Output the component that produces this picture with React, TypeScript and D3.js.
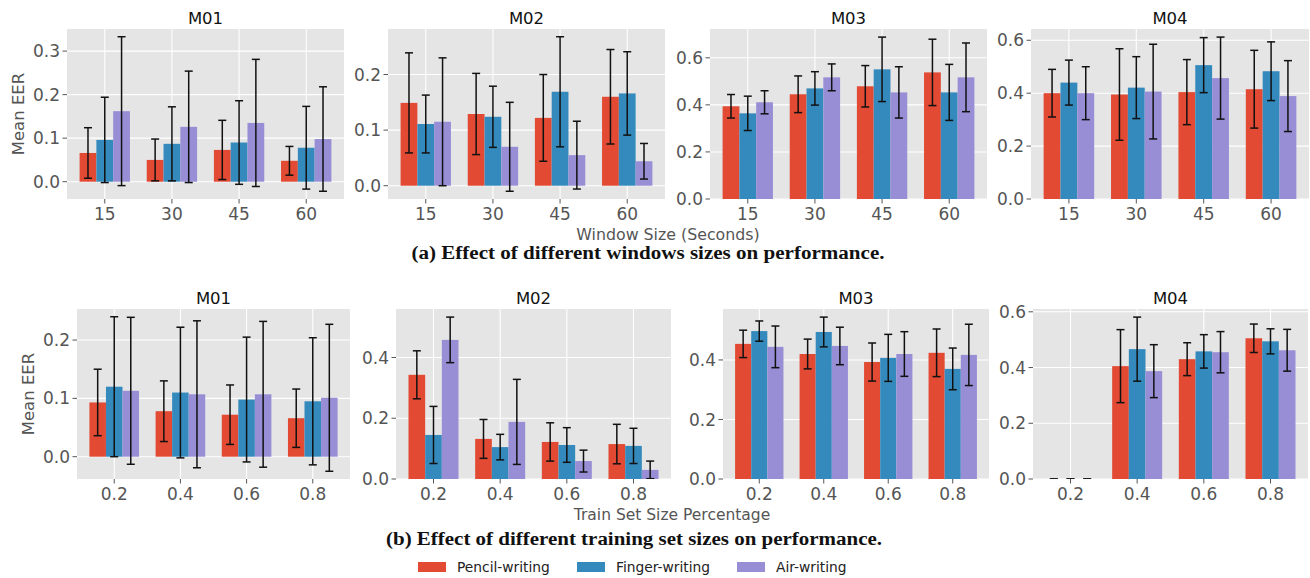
import React from 'react'
import * as d3 from 'd3'

// series and categories
const seriesNames = ['Pencil-writing', 'Finger-writing', 'Air-writing']
const seriesColors = ['#E24A33', '#348ABD', '#988ED5']
const windowSizes = ['15', '30', '45', '60']
const trainSizes = ['0.2', '0.4', '0.6', '0.8']

// (a) window size: mean EER per series [pencil, finger, air], and std error bars
const winM01Mean = [[0.066, 0.050, 0.073, 0.048], [0.096, 0.087, 0.090, 0.078], [0.162, 0.126, 0.135, 0.098]]
const winM01Err = [[0.058, 0.048, 0.068, 0.033], [0.098, 0.085, 0.096, 0.095], [0.171, 0.128, 0.146, 0.120]]
const winM02Mean = [[0.149, 0.129, 0.122, 0.160], [0.111, 0.124, 0.169, 0.166], [0.115, 0.070, 0.055, 0.044]]
const winM02Err = [[0.090, 0.073, 0.078, 0.085], [0.052, 0.055, 0.099, 0.075], [0.115, 0.080, 0.061, 0.032]]
const winM03Mean = [[0.394, 0.445, 0.479, 0.538], [0.364, 0.470, 0.551, 0.453], [0.411, 0.517, 0.453, 0.517]]
const winM03Err = [[0.050, 0.078, 0.088, 0.141], [0.073, 0.071, 0.137, 0.119], [0.049, 0.057, 0.109, 0.146]]
const winM04Mean = [[0.400, 0.395, 0.404, 0.415], [0.440, 0.421, 0.506, 0.483], [0.400, 0.406, 0.457, 0.389]]
const winM04Err = [[0.090, 0.173, 0.123, 0.147], [0.085, 0.117, 0.104, 0.111], [0.100, 0.179, 0.155, 0.134]]

// (b) train set size
const trM01Mean = [[0.093, 0.078, 0.072, 0.066], [0.120, 0.110, 0.098, 0.095], [0.113, 0.107, 0.107, 0.101]]
const trM01Err = [[0.057, 0.052, 0.051, 0.050], [0.120, 0.112, 0.107, 0.109], [0.126, 0.126, 0.125, 0.126]]
const trM02Mean = [[0.343, 0.132, 0.122, 0.115], [0.145, 0.105, 0.112, 0.109], [0.458, 0.188, 0.059, 0.030]]
const trM02Err = [[0.079, 0.064, 0.063, 0.065], [0.094, 0.042, 0.057, 0.058], [0.075, 0.140, 0.036, 0.029]]
const trM03Mean = [[0.454, 0.420, 0.393, 0.424], [0.497, 0.494, 0.407, 0.370], [0.444, 0.447, 0.420, 0.417]]
const trM03Err = [[0.046, 0.050, 0.064, 0.080], [0.034, 0.050, 0.079, 0.070], [0.070, 0.063, 0.075, 0.103]]
const trM04Mean = [[0, 0.405, 0.430, 0.505], [0, 0.466, 0.458, 0.494], [0, 0.387, 0.455, 0.462]]
const trM04Err = [[0, 0.131, 0.059, 0.051], [0, 0.115, 0.060, 0.045], [0, 0.095, 0.074, 0.075]]

// y tick labels per panel
const winM01Ticks = [0, 0.1, 0.2, 0.3]
const winM02Ticks = [0, 0.1, 0.2]
const winM03Ticks = [0, 0.2, 0.4, 0.6]
const winM04Ticks = [0, 0.2, 0.4, 0.6]
const trM01Ticks = [0, 0.1, 0.2]
const trM02Ticks = [0, 0.2, 0.4]
const trM03Ticks = [0, 0.2, 0.4]
const trM04Ticks = [0, 0.2, 0.4, 0.6]

const FONT = '"DejaVu Sans", sans-serif'
const GREY = '#555555'

interface PanelProps {
  id: string;
  left: number;
  right: number;
  top: number;
  bottom: number;
  title: string;
  cats: string[];
  means: number[][];
  errs: number[][];
  ticks: number[];
  ylabelX?: number;
}

const Panel: React.FC<PanelProps> = ({ id, left, right, top, bottom, title, cats, means, errs, ticks, ylabelX }) => {
  const barW = 0.25
  const x = d3.scaleLinear()
    .domain([-0.5625, cats.length - 1 + 0.5625])
    .range([left, right])

  // matplotlib-like autoscale: 5% margins, bars stick to 0
  const lows = means.flatMap((s, i) => s.map((m, j) => m - errs[i][j]))
  const highs = means.flatMap((s, i) => s.map((m, j) => m + errs[i][j]))
  const lo = Math.min(0, d3.min(lows) as number)
  const hi = d3.max(highs) as number
  const span = hi - lo
  const y = d3.scaleLinear()
    .domain([lo < 0 ? lo - 0.05 * span : 0, hi + 0.05 * span])
    .range([bottom, top])

  const capHalf = 4
  return (
    <g>
      <defs>
        <clipPath id={`clip-${id}`}>
          <rect x={left} y={top} width={right - left} height={bottom - top} />
        </clipPath>
      </defs>
      <rect x={left} y={top} width={right - left} height={bottom - top} fill="#E5E5E5" />
      {cats.map((c, i) => (
        <line key={`gx${i}`} x1={x(i)} x2={x(i)} y1={top} y2={bottom} stroke="#fff" strokeWidth={1.1} />
      ))}
      {ticks.map((t, i) => (
        <line key={`gy${i}`} x1={left} x2={right} y1={y(t)} y2={y(t)} stroke="#fff" strokeWidth={1.1} />
      ))}
      <g clipPath={`url(#clip-${id})`}>
        {means.map((s, si) => s.map((m, j) => {
          const x0 = x(j + (si - 1) * barW - barW / 2)
          const x1 = x(j + (si - 1) * barW + barW / 2)
          return (
            <rect key={`b${si}-${j}`} x={x0} width={x1 - x0} y={Math.min(y(m), y(0))}
              height={Math.abs(y(0) - y(m))} fill={seriesColors[si]} />
          )
        }))}
        {means.map((s, si) => s.map((m, j) => {
          const cx = x(j + (si - 1) * barW)
          const e = errs[si][j]
          return (
            <g key={`e${si}-${j}`} stroke="#111" strokeWidth={1.5}>
              <line x1={cx} x2={cx} y1={y(m - e)} y2={y(m + e)} />
              <line x1={cx - capHalf} x2={cx + capHalf} y1={y(m - e)} y2={y(m - e)} />
              <line x1={cx - capHalf} x2={cx + capHalf} y1={y(m + e)} y2={y(m + e)} />
            </g>
          )
        }))}
      </g>
      {ticks.map((t, i) => (
        <g key={`ty${i}`}>
          <line x1={left - 4.5} x2={left} y1={y(t)} y2={y(t)} stroke={GREY} strokeWidth={1} />
          <text x={left - 7} y={y(t)} dy="0.36em" textAnchor="end" fontSize={17} fill={GREY}
            fontFamily={FONT}>{t.toFixed(1)}</text>
        </g>
      ))}
      {cats.map((c, i) => (
        <g key={`tx${i}`}>
          <line x1={x(i)} x2={x(i)} y1={bottom} y2={bottom + 4.5} stroke={GREY} strokeWidth={1} />
          <text x={x(i)} y={bottom + 21} textAnchor="middle" fontSize={17} fill={GREY}
            fontFamily={FONT}>{c}</text>
        </g>
      ))}
      <text x={(left + right) / 2} y={top - 5} textAnchor="middle" fontSize={16.5} fill="#111"
        fontFamily={FONT}>{title}</text>
      {ylabelX !== undefined && (
        <text transform={`translate(${ylabelX},${(top + bottom) / 2}) rotate(-90)`} textAnchor="middle"
          fontSize={16.5} fill={GREY} fontFamily={FONT}>Mean EER</text>
      )}
    </g>
  )
}

export default function App() {
  const topRow = { top: 29, bottom: 199 }
  const botRow = { top: 309, bottom: 479 }
  return (
    <svg width={1310} height={578} style={{ position: 'absolute', left: 0, top: 0, background: '#fff' }}>
      <Panel id="a1" left={67} right={344} {...topRow} title="M01" cats={windowSizes}
        means={winM01Mean} errs={winM01Err} ticks={winM01Ticks} ylabelX={23.5} />
      <Panel id="a2" left={388} right={665} {...topRow} title="M02" cats={windowSizes}
        means={winM02Mean} errs={winM02Err} ticks={winM02Ticks} />
      <Panel id="a3" left={710} right={987} {...topRow} title="M03" cats={windowSizes}
        means={winM03Mean} errs={winM03Err} ticks={winM03Ticks} />
      <Panel id="a4" left={1031} right={1309} {...topRow} title="M04" cats={windowSizes}
        means={winM04Mean} errs={winM04Err} ticks={winM04Ticks} />

      <Panel id="b1" left={77} right={350} {...botRow} title="M01" cats={trainSizes}
        means={trM01Mean} errs={trM01Err} ticks={trM01Ticks} ylabelX={34} />
      <Panel id="b2" left={396} right={671} {...botRow} title="M02" cats={trainSizes}
        means={trM02Mean} errs={trM02Err} ticks={trM02Ticks} />
      <Panel id="b3" left={723} right={989} {...botRow} title="M03" cats={trainSizes}
        means={trM03Mean} errs={trM03Err} ticks={trM03Ticks} />
      <Panel id="b4" left={1033} right={1308} {...botRow} title="M04" cats={trainSizes}
        means={trM04Mean} errs={trM04Err} ticks={trM04Ticks} />

      <text x={668} y={240} textAnchor="middle" fontSize={15.8} fill={GREY} fontFamily={FONT}>
        Window Size (Seconds)</text>
      <text x={648} y={259} textAnchor="middle" fontSize={18.5} fontWeight="bold" fill="#111"
        fontFamily='"Liberation Serif", serif' textLength={473} lengthAdjust="spacingAndGlyphs">
        (a) Effect of different windows sizes on performance.</text>
      <text x={672} y={520} textAnchor="middle" fontSize={15.5} fill={GREY} fontFamily={FONT}>
        Train Set Size Percentage</text>
      <text x={634} y={545} textAnchor="middle" fontSize={18.5} fontWeight="bold" fill="#111"
        fontFamily='"Liberation Serif", serif' textLength={496} lengthAdjust="spacingAndGlyphs">
        (b) Effect of different training set sizes on performance.</text>

      {seriesNames.map((name, i) => {
        const lx = [418, 577, 737][i]
        return (
          <g key={name}>
            <rect x={lx} y={562} width={28} height={10} fill={seriesColors[i]} />
            <text x={lx + 39} y={572} fontSize={13.8} fill="#222" fontFamily={FONT}>{name}</text>
          </g>
        )
      })}
    </svg>
  )
}
